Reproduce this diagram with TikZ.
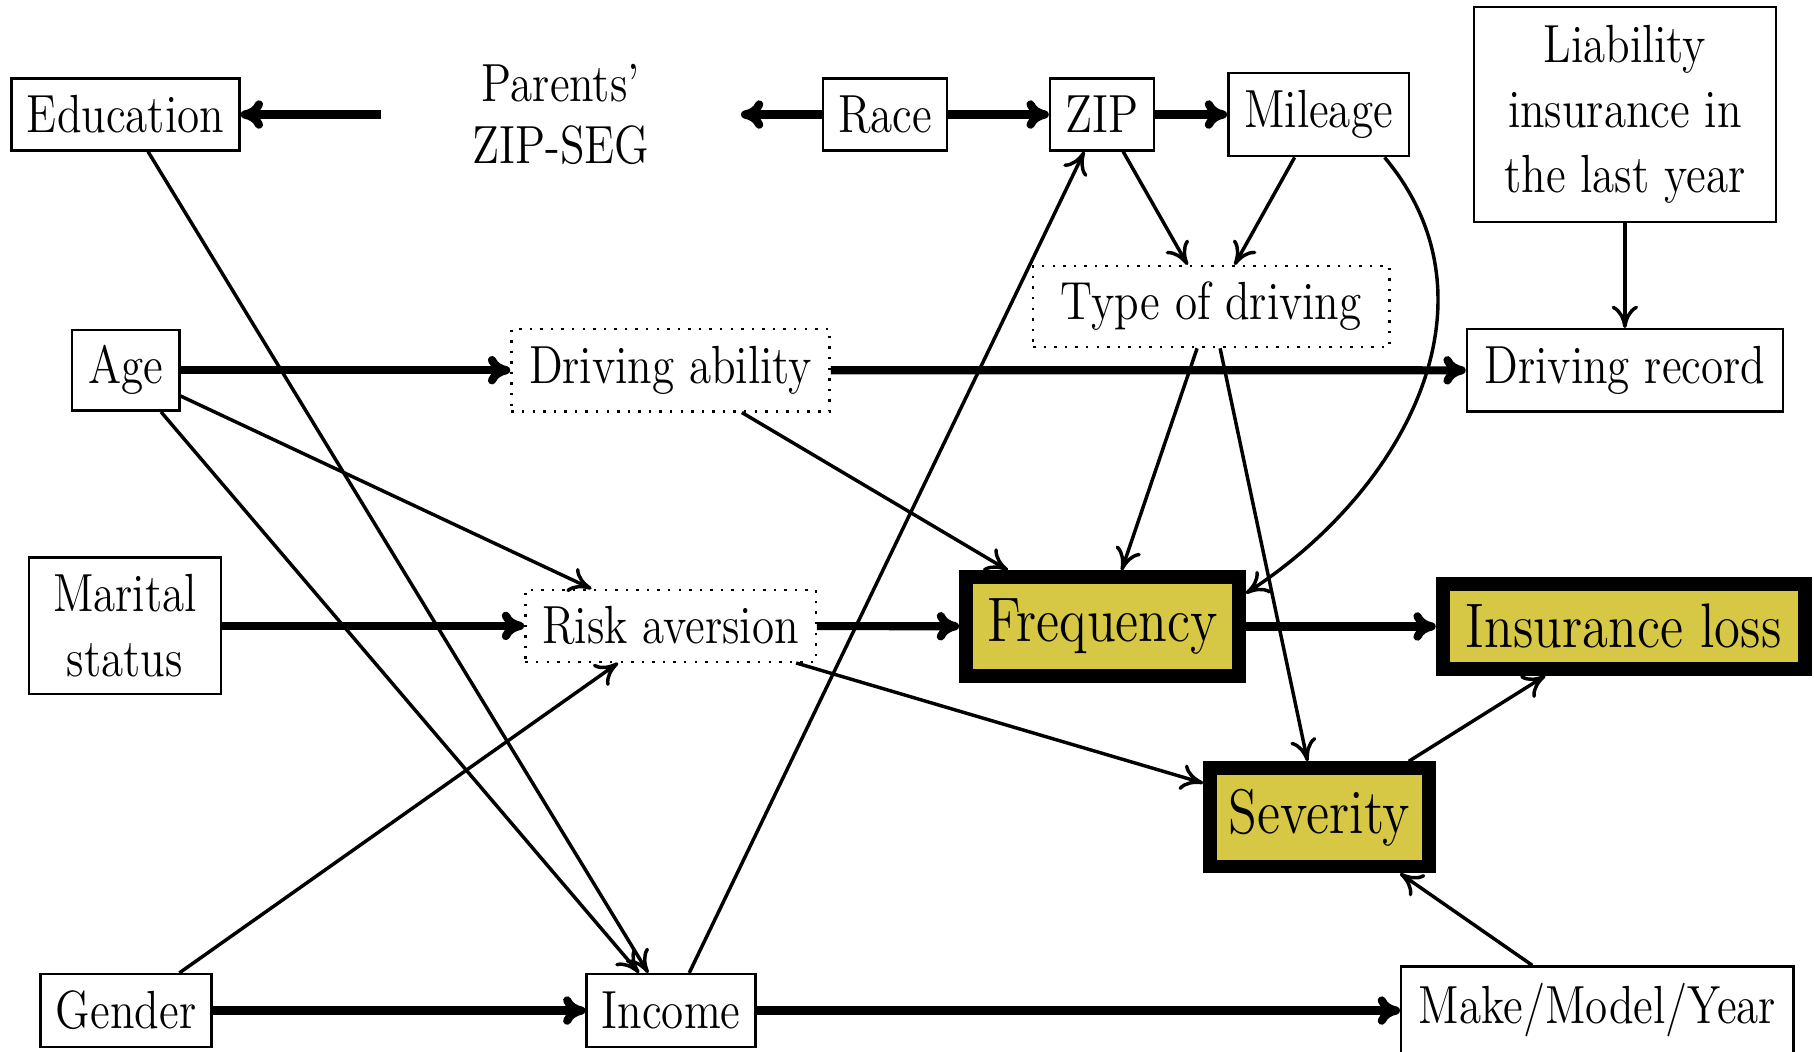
\documentclass[tikz,border=0pt]{standalone}
\usepackage{graphicx}
\usetikzlibrary{arrows.meta, positioning}
\definecolor{lossyellow}{RGB}{214,200,68}
\newcommand{\tall}[1]{\scalebox{1}[1.19]{#1}}
\tikzset{
    var/.style={
        rectangle,
        draw=black,
        line width=0.6pt,
        inner sep=2pt,
        fill=white,
        font=\fontsize{11.1}{16}\selectfont
    },
    latent/.style={
        var,
        dotted
    },
    label only/.style={
        rectangle,
        inner sep=2pt,
        font=\fontsize{11.1}{15.4}\selectfont,
        align=center
    },
    target/.style={
        rectangle,
        draw=black,
        line width=3.4pt,
        inner sep=2pt,
        fill=lossyellow,
        font=\fontsize{13}{16}\selectfont
    },
    link/.style={
        draw=black,
        line width=0.85pt,
        -{Computer Modern Rightarrow[length=5.5pt, width=6.5pt]}
    },
    heavylink/.style={
        draw=black,
        line width=2pt,
        -{Computer Modern Rightarrow[length=5.5pt, width=7pt]}
    }
}

\begin{document}
\begin{tikzpicture}
\useasboundingbox (0,0) rectangle (15.68,-9.09);

% Top row
\node[var, minimum width=1.97cm, minimum height=0.62cm] (edu) at (1.085,-0.99) {\tall{Education}};
\node[label only, minimum width=3.1cm, right=1.21cm of edu] (parents) {\tall{Parents'}\\\tall{ZIP-SEG}};
\node[var, minimum width=1.07cm, minimum height=0.62cm, right=0.7cm of parents] (race) {\tall{Race}};
\node[var, minimum width=0.9cm, minimum height=0.62cm, right=0.87cm of race] (zip) {\tall{ZIP}};
\node[var, minimum width=1.56cm, minimum height=0.72cm, right=0.62cm of zip] (mileage) {\tall{Mileage}};
\node[var, minimum width=2.61cm, minimum height=1.86cm, align=center] (liab) at (14.045,-0.99)
    {\tall{Liability}\\\tall{insurance in}\\\tall{the last year}};

% Driving
\node[latent, minimum width=3.08cm, minimum height=0.7cm] (tod) at (10.47,-2.65) {\tall{Type of driving}};
\node[var, minimum width=0.93cm, minimum height=0.7cm] (age) at (1.085,-3.2) {\tall{Age}};
\node[latent, minimum width=2.75cm, minimum height=0.71cm, right=2.85cm of age] (abil) {\tall{Driving ability}};
\node[var, minimum width=2.73cm, minimum height=0.71cm, below=0.905cm of liab] (record) {\tall{Driving record}};

% Middle - risk and loss
\node[var, minimum width=1.66cm, minimum height=1.18cm, align=center] (marital) at (1.08,-5.41)
    {\tall{Marital}\\\tall{status}};
\node[latent, minimum width=2.51cm, minimum height=0.62cm, right=2.61cm of marital] (risk) {\tall{Risk aversion}};
\node[target, minimum width=2.36cm, minimum height=0.85cm] (freq) at (9.53,-5.415) {\tall{Frequency}};
\node[target, minimum width=3.13cm, minimum height=0.73cm] (loss) at (14.035,-5.415) {\tall{Insurance loss}};
\node[target, minimum width=1.89cm, minimum height=0.85cm] (sev) at (11.405,-7.065) {\tall{Severity}};

% Bottom row
\node[var, minimum width=1.48cm, minimum height=0.63cm] (gender) at (1.09,-8.735) {\tall{Gender}};
\node[var, minimum width=1.46cm, minimum height=0.63cm, right=3.22cm of gender] (income) {\tall{Income}};
\node[var, minimum width=3.39cm, minimum height=0.76cm, right=5.56cm of income] (make) {\tall{Make/Model/Year}};

% Strong links
\draw[heavylink] (parents) -- (edu);
\draw[heavylink] (race) -- (parents);
\draw[heavylink] (race) -- (zip);
\draw[heavylink] (zip) -- (mileage);
\draw[heavylink] (age) -- (abil);
\draw[heavylink] (abil) -- (record);
\draw[heavylink] (marital) -- (risk);
\draw[heavylink] (risk) -- (freq);
\draw[heavylink] (freq) -- (loss);
\draw[heavylink] (gender) -- (income);
\draw[heavylink] (income) -- (make);

% Other links
\draw[link] (zip) -- (tod);
\draw[link] (mileage) -- (tod);
\draw[link] (mileage.-33) .. controls +(-50:1.61) and +(33:1.66) .. (freq.13);
\draw[link] (liab) -- (record);
\draw[link] (tod) -- (freq);
\draw[link] (tod) -- (sev);
\draw[link] (abil) -- (freq);
\draw[link] (age) -- (risk);
\draw[link] (age) -- (income);
\draw[link] (edu) -- (income);
\draw[link] (risk) -- (sev);
\draw[link] (sev) -- (loss);
\draw[link] (make) -- (sev);
\draw[link] (gender) -- (risk);
\draw[link] (income) -- (zip);

\end{tikzpicture}
\end{document}
